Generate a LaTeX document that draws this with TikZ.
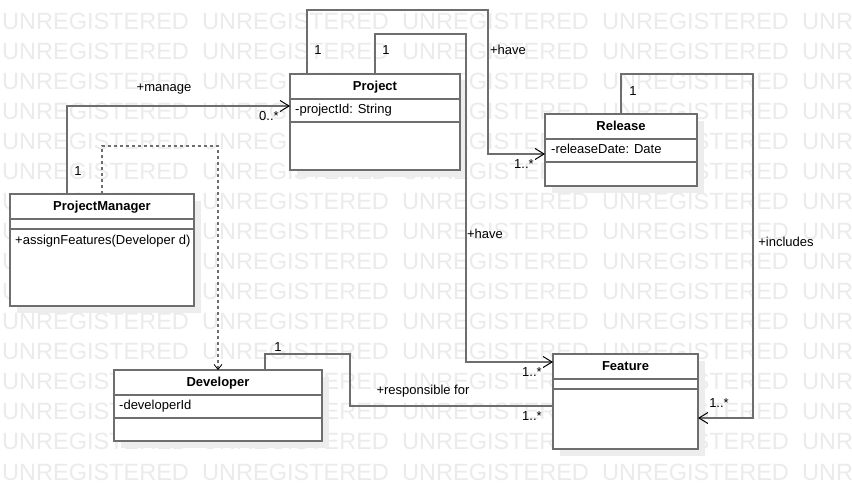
\documentclass[tikz,border=0pt]{standalone}
\usepackage{fontspec}
\setmainfont{Liberation Sans}
\usepackage{xcolor}
\usepackage{tikz}
\usetikzlibrary{arrows.meta,positioning,calc,shadows}

\definecolor{wmgray}{HTML}{EBEBEB}
\definecolor{linegray}{HTML}{6E6E6E}
\definecolor{shadowgray}{HTML}{EDEDED}

\tikzset{
  classbox/.style={draw=linegray, line width=1.2pt, fill=white, inner sep=0pt,
    outer sep=0pt, anchor=north west,
    drop shadow={shadow xshift=7pt, shadow yshift=-7pt, fill=shadowgray, opacity=1}},
  compsep/.style={draw=linegray, line width=1.2pt},
  classname/.style={font=\fontsize{13}{15}\selectfont\bfseries, text height=9.5pt, text depth=2.5pt},
  attr/.style={anchor=west, text height=9.5pt, text depth=2.5pt},
  lbl/.style={text height=9.5pt, text depth=2.5pt},
  watermark/.style={anchor=base west, text=wmgray, font=\fontsize{23.5}{26}\selectfont},
  assocline/.style={draw=linegray, line width=1.2pt},
  assoc/.style={assocline, -{Straight Barb[length=9pt, width=11pt, line width=1pt, color=black]}},
  depend/.style={draw=linegray, line width=1.2pt, dash pattern=on 3pt off 3pt,
    -{Straight Barb[length=5pt, width=8pt, line width=0.8pt, color=black]}}
}

\begin{document}
\begin{tikzpicture}[x=1pt, y=-1pt, every node/.style={font=\fontsize{13}{15}\selectfont, inner sep=0pt}]

%% ── Canvas (852 x 490, 1pt = 1px, y downwards) ───────────────────────────────
\useasboundingbox[fill=white] (0,0) rectangle (852,490);

%% ── Watermark ────────────────────────────────────────────────────────────────
\foreach \row in {0,...,15}{
  \foreach \col in {0,...,4}{
    \node[watermark] (wm-\row-\col) at (\col*200+2, 29+\row*30.07) {UNREGISTERED};
  }
}

%% ── Project ──────────────────────────────────────────────────────────────────
\node[classbox, minimum width=170pt, minimum height=96pt] (project) at (290,74) {};
\draw[compsep] ($(project.north west)+(0,25)$) -- ($(project.north east)+(0,25)$);
\draw[compsep] ($(project.north west)+(0,48)$) -- ($(project.north east)+(0,48)$);
\node[classname] (projectName) at ($(project.north)+(0,13)$) {Project};
\node[attr] (projectAttr) at ($(project.north west)+(5,36)$) {-projectId: String};

%% ── Release ──────────────────────────────────────────────────────────────────
\node[classbox, minimum width=152pt, minimum height=72pt] (release) at (545,114) {};
\draw[compsep] ($(release.north west)+(0,25)$) -- ($(release.north east)+(0,25)$);
\draw[compsep] ($(release.north west)+(0,48)$) -- ($(release.north east)+(0,48)$);
\node[classname] (releaseName) at ($(release.north)+(0,13)$) {Release};
\node[attr] (releaseAttr) at ($(release.north west)+(6,36)$) {-releaseDate: Date};

%% ── ProjectManager ───────────────────────────────────────────────────────────
\node[classbox, minimum width=184pt, minimum height=112pt] (pm) at (10,194) {};
\draw[compsep] ($(pm.north west)+(0,25)$) -- ($(pm.north east)+(0,25)$);
\draw[compsep] ($(pm.north west)+(0,35)$) -- ($(pm.north east)+(0,35)$);
\node[classname] (pmName) at ($(pm.north)+(0,13)$) {ProjectManager};
\node[attr] (pmOp) at ($(pm.north west)+(5,47)$) {+assignFeatures(Developer d)};

%% ── Developer ────────────────────────────────────────────────────────────────
\node[classbox, minimum width=208pt, minimum height=71pt] (developer) at (114,370) {};
\draw[compsep] ($(developer.north west)+(0,25)$) -- ($(developer.north east)+(0,25)$);
\draw[compsep] ($(developer.north west)+(0,48)$) -- ($(developer.north east)+(0,48)$);
\node[classname] (developerName) at ($(developer.north)+(0,13)$) {Developer};
\node[attr] (developerAttr) at ($(developer.north west)+(5,36)$) {-developerId};

%% ── Feature ──────────────────────────────────────────────────────────────────
\node[classbox, minimum width=145pt, minimum height=95pt] (feature) at (553,354) {};
\draw[compsep] ($(feature.north west)+(0,25)$) -- ($(feature.north east)+(0,25)$);
\draw[compsep] ($(feature.north west)+(0,35)$) -- ($(feature.north east)+(0,35)$);
\node[classname] (featureName) at ($(feature.north)+(0,13)$) {Feature};

%% ── Project -> Release (+have) ───────────────────────────────────────────────
\draw[assoc] ([xshift=17pt]project.north west) -- ++(0,-64)
  -| ($([yshift=-4pt]release.west)+(-57,0)$) -- ([yshift=-4pt]release.west);
\node[lbl] (haveRelOne) at (318,51) {1};
\node[lbl] (haveRelName) at (508,51) {+have};
\node[lbl] (haveRelMany) at (524,165) {1..*};

%% ── Project -> Feature (+have) ───────────────────────────────────────────────
\draw[assoc] ([xshift=85pt]project.north west) -- ++(0,-40)
  -| ($([yshift=-8pt]feature.north west)+(-87,0)$) -- ([yshift=-8pt]feature.north west);
\node[lbl] (haveFeatOne) at (386,51) {1};
\node[lbl] (haveFeatName) at (485,235) {+have};
\node[lbl] (haveFeatMany) at (532,373) {1..*};

%% ── ProjectManager -> Project (+manage) ──────────────────────────────────────
\draw[assoc] ([xshift=57pt]pm.north west) |- ([yshift=-32pt]project.north west);
\node[lbl] (manageOne) at (78,172) {1};
\node[lbl] (manageName) at (164,88) {+manage};
\node[lbl] (manageMany) at (269,117) {0..*};

%% ── ProjectManager ..> Developer (dependency) ────────────────────────────────
\draw[depend] (pm.north) -- ++(0,-48) -| (developer.north);

%% ── Developer -- Feature (+responsible for) ──────────────────────────────────
\draw[assocline] ([xshift=151pt]developer.north west) -- ++(0,-16)
  -| ($([yshift=-52pt]feature.north west)+(-203,0)$) -- ([yshift=-52pt]feature.north west);
\node[lbl] (respOne) at (278,348) {1};
\node[lbl] (respName) at (423,391) {+responsible for};
\node[lbl] (respMany) at (532,417) {1..*};

%% ── Release -> Feature (+includes) ───────────────────────────────────────────
\draw[assoc] (release.north) -- ++(0,-40)
  -| ($([yshift=-64pt]feature.north east)+(55,0)$) -- ([yshift=-64pt]feature.north east);
\node[lbl] (inclOne) at (633,92) {1};
\node[lbl] (inclName) at (786,243) {+includes};
\node[lbl] (inclMany) at (719,404) {1..*};

\end{tikzpicture}
\end{document}
